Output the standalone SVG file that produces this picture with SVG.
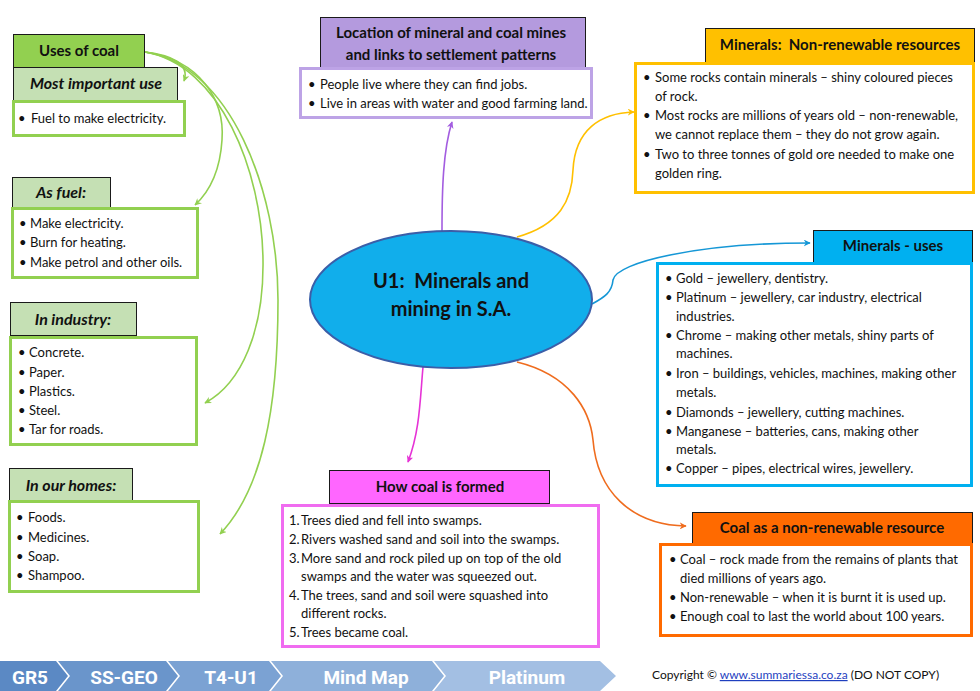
<svg xmlns="http://www.w3.org/2000/svg" width="980" height="691" viewBox="0 0 980 691">
<defs>
<style>
text{font-family:Lato,"Liberation Sans",sans-serif;fill:#111;white-space:pre}
.b{font-size:13px}
.h{font-size:15px;font-weight:bold;text-anchor:middle}
.hi{font-size:16px;font-weight:bold;font-style:italic;text-anchor:middle}
.hd{stroke:#1a1a1a;stroke-width:1}
.gb{fill:#fff;stroke:#92d050;stroke-width:3}
.c{fill:none;stroke-width:1.6}
.ft{font-family:Roboto,"Liberation Sans",sans-serif;font-size:19px;font-weight:bold;fill:#fff;text-anchor:middle}
</style>
<marker id="ag" viewBox="0 0 10 10" refX="9" refY="5" markerWidth="7" markerHeight="7" orient="auto" markerUnits="userSpaceOnUse"><path d="M0,0 L10,5 L0,10 L3,5 z" fill="#92d050"/></marker>
<marker id="ap" viewBox="0 0 10 10" refX="9" refY="5" markerWidth="7" markerHeight="7" orient="auto" markerUnits="userSpaceOnUse"><path d="M0,0 L10,5 L0,10 L3,5 z" fill="#a35de0"/></marker>
<marker id="ay" viewBox="0 0 10 10" refX="9" refY="5" markerWidth="7" markerHeight="7" orient="auto" markerUnits="userSpaceOnUse"><path d="M0,0 L10,5 L0,10 L3,5 z" fill="#ffc000"/></marker>
<marker id="ab" viewBox="0 0 10 10" refX="9" refY="5" markerWidth="7" markerHeight="7" orient="auto" markerUnits="userSpaceOnUse"><path d="M0,0 L10,5 L0,10 L3,5 z" fill="#1597d6"/></marker>
<marker id="ao" viewBox="0 0 10 10" refX="9" refY="5" markerWidth="7" markerHeight="7" orient="auto" markerUnits="userSpaceOnUse"><path d="M0,0 L10,5 L0,10 L3,5 z" fill="#ef6c1e"/></marker>
<marker id="am" viewBox="0 0 10 10" refX="9" refY="5" markerWidth="7" markerHeight="7" orient="auto" markerUnits="userSpaceOnUse"><path d="M0,0 L10,5 L0,10 L3,5 z" fill="#e633d6"/></marker>
</defs>
<rect width="980" height="691" fill="#fff"/>

<g id="connectors">
<path class="c" stroke="#92d050" d="M145,52 C172,55 190,64 184,81" marker-end="url(#ag)"/>
<path class="c" stroke="#92d050" d="M145,52 C200,60 225,100 222,140 C220,172 208,193 195,205" marker-end="url(#ag)"/>
<path class="c" stroke="#92d050" d="M145,52 C220,65 262,170 263,260 C264,330 242,383 205,403" marker-end="url(#ag)"/>
<path class="c" stroke="#92d050" d="M145,52 C230,65 278,190 278,300 C278,410 262,490 220,534" marker-end="url(#ag)"/>
<path class="c" stroke="#a35de0" d="M442,231 C442,190 443,150 452,122" marker-end="url(#ap)"/>
<path class="c" stroke="#ffc000" d="M517,237 C560,225 572,200 573,170 C575,130 600,113 634,112" marker-end="url(#ay)"/>
<path class="c" stroke="#1597d6" d="M592,304 C605,297 612,292 613,280 C616,262 700,243 810,243" marker-end="url(#ab)"/>
<path class="c" stroke="#ef6c1e" d="M517,362 C570,375 590,410 593,440 C597,490 630,525 686,526" marker-end="url(#ao)"/>
<path class="c" stroke="#e633d6" d="M423,367 C420,400 420,430 408,462" marker-end="url(#am)"/>
</g>

<g id="center">
<ellipse cx="451" cy="299.5" rx="141" ry="68.5" fill="#11aeeb" stroke="#3b5ea8" stroke-width="2"/>
<text x="451" y="288" style="font-size:20px;font-weight:bold;text-anchor:middle">U1:  Minerals and</text>
<text x="451" y="316" style="font-size:20px;font-weight:bold;text-anchor:middle">mining in S.A.</text>
</g>

<g id="uses-of-coal">
<rect class="hd" x="13.5" y="34.5" width="131" height="33" fill="#92d050"/>
<text class="h" x="79" y="56">Uses of coal</text>
</g>

<g id="most-important-use">
<rect class="hd" x="13.5" y="67.5" width="164" height="33" fill="#c5e0b4"/>
<text class="hi" x="96" y="89">Most important use</text>
<rect class="gb" x="13.5" y="101.5" width="171" height="34"/>
<text class="b" x="18" y="123">•</text><text class="b" x="31" y="123">Fuel to make electricity.</text>
</g>

<g id="as-fuel">
<rect class="hd" x="12.5" y="177.5" width="98" height="30" fill="#c5e0b4"/>
<text class="hi" x="61" y="198">As fuel:</text>
<rect class="gb" x="12.5" y="208.5" width="185" height="69"/>
<text class="b" x="19" y="228">•</text><text class="b" x="30" y="228">Make electricity.</text>
<text class="b" x="19" y="247">•</text><text class="b" x="30" y="247">Burn for heating.</text>
<text class="b" x="19" y="267">•</text><text class="b" x="30" y="267">Make petrol and other oils.</text>
</g>

<g id="in-industry">
<rect class="hd" x="10.5" y="302.5" width="126" height="33" fill="#c5e0b4"/>
<text class="hi" x="73" y="325">In industry:</text>
<rect class="gb" x="10.5" y="337.5" width="186" height="107"/>
<text class="b" x="18" y="357">•</text><text class="b" x="29" y="357">Concrete.</text>
<text class="b" x="18" y="377">•</text><text class="b" x="29" y="377">Paper.</text>
<text class="b" x="18" y="396">•</text><text class="b" x="29" y="396">Plastics.</text>
<text class="b" x="18" y="415">•</text><text class="b" x="29" y="415">Steel.</text>
<text class="b" x="18" y="434">•</text><text class="b" x="29" y="434">Tar for roads.</text>
</g>

<g id="in-our-homes">
<rect class="hd" x="9.5" y="468.5" width="123" height="32" fill="#c5e0b4"/>
<text class="hi" x="71" y="491">In our homes:</text>
<rect class="gb" x="9.5" y="501.5" width="189" height="90"/>
<text class="b" x="16" y="522">•</text><text class="b" x="28" y="522">Foods.</text>
<text class="b" x="16" y="542">•</text><text class="b" x="28" y="542">Medicines.</text>
<text class="b" x="16" y="561">•</text><text class="b" x="28" y="561">Soap.</text>
<text class="b" x="16" y="580">•</text><text class="b" x="28" y="580">Shampoo.</text>
</g>

<g id="location">
<rect class="hd" x="320.5" y="17.5" width="265" height="50" fill="#b49ade"/>
<text class="h" x="451" y="38">Location of mineral and coal mines</text>
<text class="h" x="451" y="60">and links to settlement patterns</text>
<rect x="300.5" y="68.5" width="291" height="49" fill="#fff" stroke="#bda3e6" stroke-width="3"/>
<text class="b" x="308" y="89">•</text><text class="b" x="320" y="89">People live where they can find jobs.</text>
<text class="b" x="308" y="108">•</text><text class="b" x="320" y="108">Live in areas with water and good farming land.</text>
</g>

<g id="minerals-non-renewable">
<rect class="hd" x="705.5" y="28.5" width="269" height="34" fill="#ffc000"/>
<text class="h" x="840" y="50">Minerals:  Non-renewable resources</text>
<rect x="635.5" y="63.5" width="338" height="129" fill="#fff" stroke="#ffc000" stroke-width="3"/>
<text class="b" x="643" y="82">•</text><text class="b" x="655" y="82">Some rocks contain minerals – shiny coloured pieces</text>
<text class="b" x="655" y="101">of rock.</text>
<text class="b" x="643" y="120">•</text><text class="b" x="655" y="120">Most rocks are millions of years old – non-renewable,</text>
<text class="b" x="655" y="139">we cannot replace them – they do not grow again.</text>
<text class="b" x="643" y="159">•</text><text class="b" x="655" y="159">Two to three tonnes of gold ore needed to make one</text>
<text class="b" x="655" y="178">golden ring.</text>
</g>

<g id="minerals-uses">
<rect class="hd" x="813.5" y="230.5" width="159" height="32" fill="#00b0f0"/>
<text class="h" x="893" y="251">Minerals - uses</text>
<rect x="657.5" y="263.5" width="314" height="222" fill="#fff" stroke="#00b0f0" stroke-width="3"/>
<text class="b" x="665" y="283">•</text><text class="b" x="676" y="283">Gold – jewellery, dentistry.</text>
<text class="b" x="665" y="302">•</text><text class="b" x="676" y="302">Platinum – jewellery, car industry, electrical</text>
<text class="b" x="676" y="321">industries.</text>
<text class="b" x="665" y="340">•</text><text class="b" x="676" y="340">Chrome – making other metals, shiny parts of</text>
<text class="b" x="676" y="358">machines.</text>
<text class="b" x="665" y="378">•</text><text class="b" x="676" y="378">Iron – buildings, vehicles, machines, making other</text>
<text class="b" x="676" y="397">metals.</text>
<text class="b" x="665" y="417">•</text><text class="b" x="676" y="417">Diamonds – jewellery, cutting machines.</text>
<text class="b" x="665" y="436">•</text><text class="b" x="676" y="436">Manganese – batteries, cans, making other</text>
<text class="b" x="676" y="454">metals.</text>
<text class="b" x="665" y="473">•</text><text class="b" x="676" y="473">Copper – pipes, electrical wires, jewellery.</text>
</g>

<g id="coal-non-renewable">
<rect class="hd" x="692.5" y="512.5" width="280" height="31" fill="#ff6a00"/>
<text class="h" x="832" y="533">Coal as a non-renewable resource</text>
<rect x="660.5" y="544.5" width="311" height="91" fill="#fff" stroke="#ff6a00" stroke-width="3"/>
<text class="b" x="669" y="564">•</text><text class="b" x="680" y="564">Coal – rock made from the remains of plants that</text>
<text class="b" x="680" y="583">died millions of years ago.</text>
<text class="b" x="669" y="602">•</text><text class="b" x="680" y="602">Non-renewable – when it is burnt it is used up.</text>
<text class="b" x="669" y="621">•</text><text class="b" x="680" y="621">Enough coal to last the world about 100 years.</text>
</g>

<g id="how-coal-formed">
<rect class="hd" x="329.5" y="470.5" width="220" height="33" fill="#ff66ff"/>
<text class="h" x="440" y="492">How coal is formed</text>
<rect x="282.5" y="505.5" width="316" height="141" fill="#fff" stroke="#f06cf0" stroke-width="3"/>
<text class="b" x="289" y="525">1.</text><text class="b" x="301" y="525">Trees died and fell into swamps.</text>
<text class="b" x="289" y="544">2.</text><text class="b" x="301" y="544">Rivers washed sand and soil into the swamps.</text>
<text class="b" x="289" y="563">3.</text><text class="b" x="301" y="563">More sand and rock piled up on top of the old</text>
<text class="b" x="301" y="581">swamps and the water was squeezed out.</text>
<text class="b" x="289" y="600">4.</text><text class="b" x="301" y="600">The trees, sand and soil were squashed into</text>
<text class="b" x="301" y="618">different rocks.</text>
<text class="b" x="289" y="637">5.</text><text class="b" x="301" y="637">Trees became coal.</text>
</g>

<g id="footer">
<polygon points="0,661 56,661 68,676 56,691 0,691" fill="#5b89c4"/>
<polygon points="58,661 166,661 178,676 166,691 58,691 70,676" fill="#6a95cb"/>
<polygon points="168,661 269,661 281,676 269,691 168,691 180,676" fill="#7ba2d3"/>
<polygon points="271,661 432,661 444,676 432,691 271,691 283,676" fill="#8eb0da"/>
<polygon points="434,661 600,661 616,676 600,691 434,691 446,676" fill="#a3bfe3"/>
<text class="ft" x="30" y="684">GR5</text>
<text class="ft" x="124" y="684">SS-GEO</text>
<text class="ft" x="231" y="684">T4-U1</text>
<text class="ft" x="366" y="684">Mind Map</text>
<text class="ft" x="527" y="684">Platinum</text>
<text x="652" y="679" style="font-size:12px">Copyright © <tspan text-decoration="underline" style="fill:#1f3fbf">www.summariessa.co.za</tspan> (DO NOT COPY)</text>
</g>
</svg>
